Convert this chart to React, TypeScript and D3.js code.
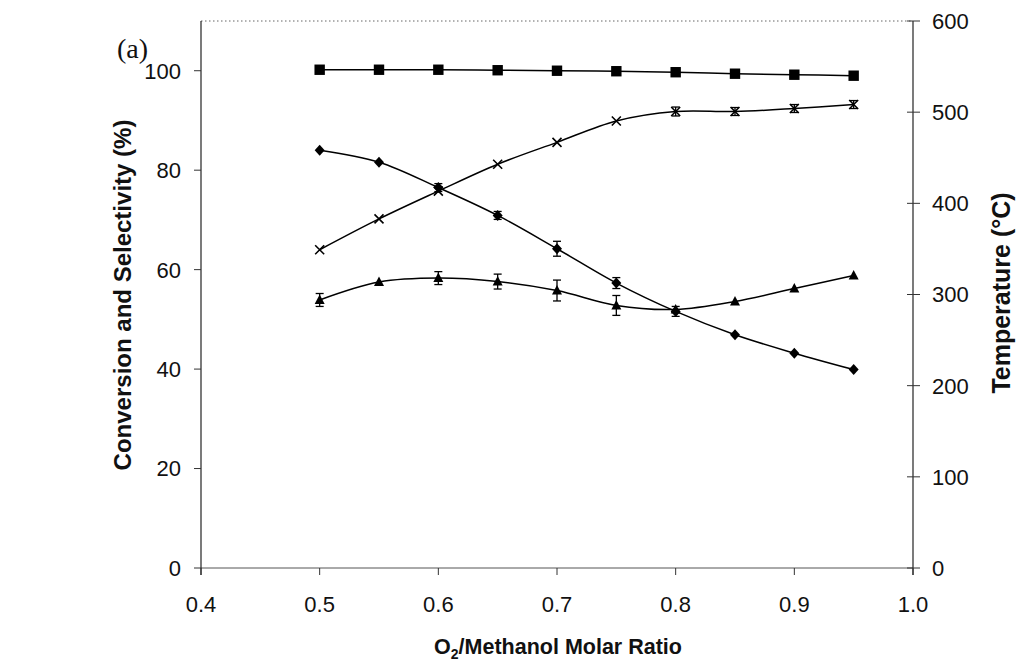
import React from "react";
import * as d3 from "d3";

// O2/methanol molar ratio (x values shared by every series)
const ratios = [0.5, 0.55, 0.6, 0.65, 0.7, 0.75, 0.8, 0.85, 0.9, 0.95];

// Series values (%), left axis
const squareSeries = [100.2, 100.2, 100.2, 100.1, 100.0, 99.9, 99.7, 99.4, 99.2, 99.0];
const diamondSeries = [84.0, 81.6, 76.5, 70.9, 64.2, 57.3, 51.6, 46.9, 43.2, 39.9];
const crossSeries = [64.0, 70.2, 75.8, 81.2, 85.6, 89.9, 91.8, 91.8, 92.4, 93.2];
const triangleSeries = [53.9, 57.5, 58.3, 57.6, 55.8, 52.8, 52.0, 53.6, 56.2, 58.8];

// Error bar half-widths (%)
const diamondErr = [0, 0, 0.8, 0.8, 1.5, 1.1, 1.0, 0, 0, 0];
const crossErr = [0, 0, 0, 0, 0, 0, 0.9, 0.8, 0.8, 0.8];
const triangleErr = [1.3, 0, 1.3, 1.5, 2.1, 2.0, 0, 0, 0, 0];
const squareErr = [0, 0, 0, 0, 0, 0, 0, 0, 0, 0];

// Tick labels
const xTicks = [0.4, 0.5, 0.6, 0.7, 0.8, 0.9, 1.0];
const leftTicks = [0, 20, 40, 60, 80, 100];
const rightTicks = [0, 100, 200, 300, 400, 500, 600];

const W = 1016;
const H = 664;
const left = 201;
const right = 913;
const top = 21;
const bottom = 568;

const FONT = "'Liberation Sans', Arial, sans-serif";

type Shape = "square" | "diamond" | "cross" | "triangle";

function Marker({ cx, cy, shape }: { cx: number; cy: number; shape: Shape }) {
  if (shape === "square") {
    return <rect x={cx - 5.2} y={cy - 5.2} width={10.4} height={10.4} fill="#000" />;
  }
  if (shape === "diamond") {
    return (
      <path
        d={`M${cx},${cy - 5.5}L${cx + 5},${cy}L${cx},${cy + 5.5}L${cx - 5},${cy}Z`}
        fill="#000"
      />
    );
  }
  if (shape === "triangle") {
    return (
      <path
        d={`M${cx},${cy - 5.5}L${cx + 5},${cy + 4}L${cx - 5},${cy + 4}Z`}
        fill="#000"
      />
    );
  }
  return (
    <path
      d={`M${cx - 4.5},${cy - 4.5}L${cx + 4.5},${cy + 4.5}M${cx + 4.5},${cy - 4.5}L${cx - 4.5},${cy + 4.5}`}
      stroke="#000"
      strokeWidth={1.6}
      fill="none"
    />
  );
}

export default function App() {
  const x = d3.scaleLinear().domain([0.4, 1.0]).range([left, right]);
  const yL = d3.scaleLinear().domain([0, 110]).range([bottom, top]);
  const yR = d3.scaleLinear().domain([0, 600]).range([bottom, top]);

  const line = d3
    .line<number>()
    .x((_, i) => x(ratios[i]))
    .y((d) => yL(d))
    .curve(d3.curveCatmullRom.alpha(0.5));

  const series: { values: number[]; err: number[]; shape: Shape }[] = [
    { values: squareSeries, err: squareErr, shape: "square" },
    { values: crossSeries, err: crossErr, shape: "cross" },
    { values: diamondSeries, err: diamondErr, shape: "diamond" },
    { values: triangleSeries, err: triangleErr, shape: "triangle" },
  ];

  return (
    <svg
      width={W}
      height={H}
      style={{ position: "absolute", left: 0, top: 0, background: "#fff" }}
      fontFamily={FONT}
    >
      <rect width={W} height={H} fill="#fff" />

      {/* frame */}
      <line x1={left} x2={right} y1={top} y2={top} stroke="#666" strokeWidth={1} strokeDasharray="1.5 2.5" />
      <line x1={left} x2={right} y1={bottom} y2={bottom} stroke="#555" strokeWidth={1} />
      <line x1={left} x2={left} y1={top} y2={bottom + 7} stroke="#222" strokeWidth={1.2} />
      <line x1={right} x2={right} y1={top} y2={bottom + 7} stroke="#222" strokeWidth={1.2} />

      {/* x axis */}
      {xTicks.map((t) => (
        <g key={"x" + t}>
          <line x1={x(t)} x2={x(t)} y1={bottom} y2={bottom + 7} stroke="#333" />
          <text x={x(t)} y={612} textAnchor="middle" fontSize={22} fill="#111">
            {t.toFixed(1)}
          </text>
        </g>
      ))}

      {/* left axis */}
      {leftTicks.map((t) => (
        <g key={"l" + t}>
          <line x1={left - 7} x2={left} y1={yL(t)} y2={yL(t)} stroke="#333" />
          <text x={181} y={yL(t)} dy="0.36em" textAnchor="end" fontSize={22} fill="#111">
            {t}
          </text>
        </g>
      ))}

      {/* right axis */}
      {rightTicks.map((t) => (
        <g key={"r" + t}>
          <line x1={right - 6} x2={right + 7} y1={yR(t)} y2={yR(t)} stroke="#333" />
          <text x={932} y={yR(t)} dy="0.36em" textAnchor="start" fontSize={22} fill="#111">
            {t}
          </text>
        </g>
      ))}

      {/* series */}
      {series.map((s, si) => (
        <g key={"s" + si}>
          <path d={line(s.values) ?? ""} fill="none" stroke="#000" strokeWidth={1.5} />
          {s.values.map((v, i) =>
            s.err[i] > 0 ? (
              <g key={"e" + i} stroke="#000" strokeWidth={1.3}>
                <line x1={x(ratios[i])} x2={x(ratios[i])} y1={yL(v - s.err[i])} y2={yL(v + s.err[i])} />
                <line x1={x(ratios[i]) - 4} x2={x(ratios[i]) + 4} y1={yL(v - s.err[i])} y2={yL(v - s.err[i])} />
                <line x1={x(ratios[i]) - 4} x2={x(ratios[i]) + 4} y1={yL(v + s.err[i])} y2={yL(v + s.err[i])} />
              </g>
            ) : null
          )}
          {s.values.map((v, i) => (
            <Marker key={"m" + i} cx={x(ratios[i])} cy={yL(v)} shape={s.shape} />
          ))}
        </g>
      ))}

      {/* axis titles */}
      <text
        transform={`translate(131,295) rotate(-90)`}
        textAnchor="middle"
        fontSize={24}
        fontWeight="bold"
        fill="#111"
      >
        Conversion and Selectivity (%)
      </text>
      <text
        transform={`translate(1010,293) rotate(-90)`}
        textAnchor="middle"
        fontSize={25}
        fontWeight="bold"
        fill="#111"
      >
        Temperature (°C)
      </text>
      <text x={558} y={654} textAnchor="middle" fontSize={21.5} fontWeight="bold" fill="#111">
        O<tspan fontSize={14} dy={5}>2</tspan>
        <tspan dy={-5}>/Methanol Molar Ratio</tspan>
      </text>

      <text x={117} y={58} fontSize={28} fontFamily="'Liberation Serif', 'Times New Roman', serif" fill="#111">
        (a)
      </text>
    </svg>
  );
}
